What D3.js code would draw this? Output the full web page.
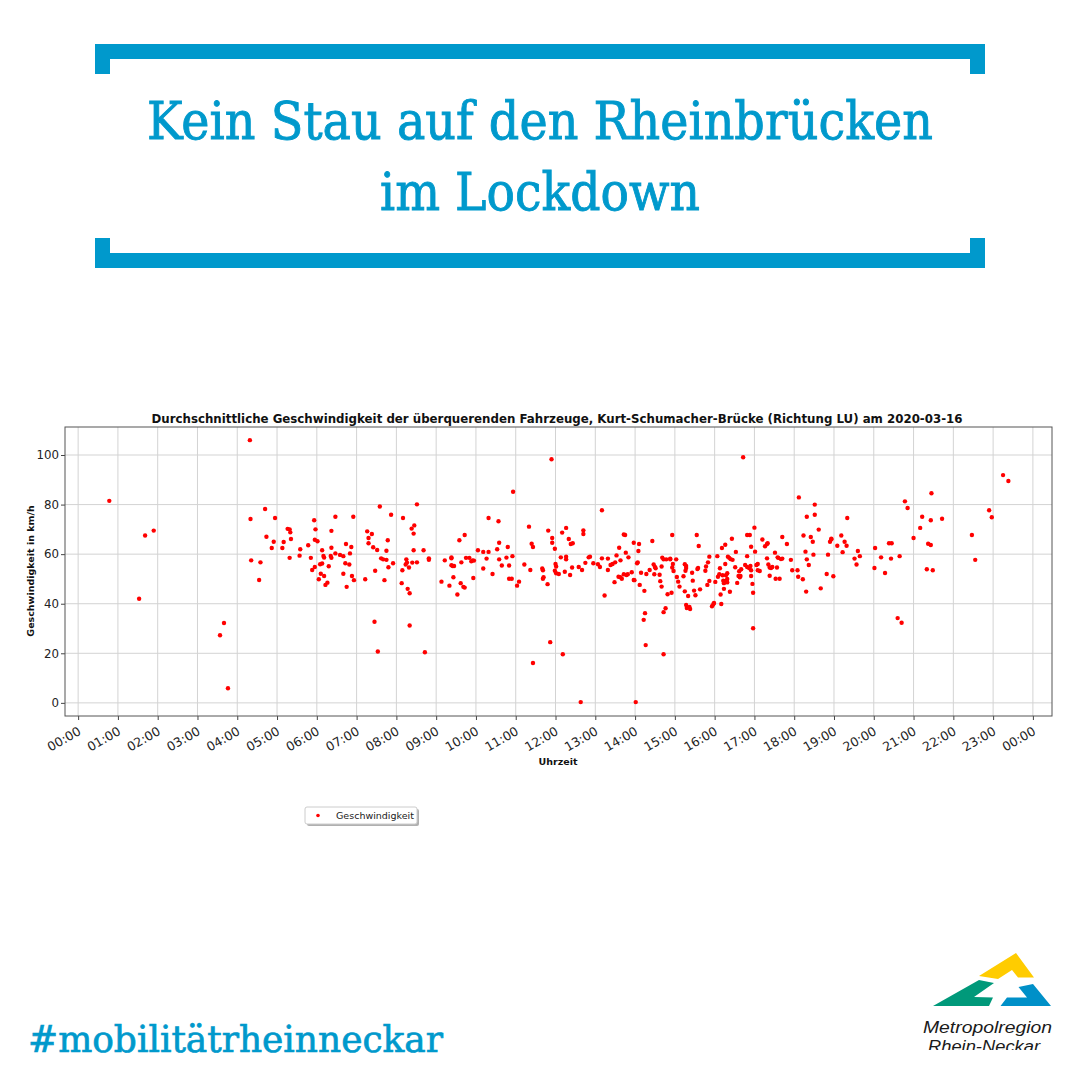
<!DOCTYPE html>
<html><head><meta charset="utf-8">
<script src="https://cdn.jsdelivr.net/npm/d3@7"></script>
<style>html,body{margin:0;padding:0;background:#fff}svg{display:block}</style>
</head><body>
<svg id="c" width="1080" height="1080"></svg>
<script>
// ---- data ----
const chartTitle = "Durchschnittliche Geschwindigkeit der überquerenden Fahrzeuge, Kurt-Schumacher-Brücke (Richtung LU) am 2020-03-16";
const headline = ["Kein Stau auf den Rheinbrücken", "im Lockdown"];
const hashtag = "#mobilitätrheinneckar";
const seriesName = "Geschwindigkeit";
const xAxisLabel = "Uhrzeit";
const yAxisLabel = "Geschwindigkeit in km/h";

const times = [
"00:47","01:32","01:41","01:54","03:34","03:40","03:46","04:19","04:20","04:21","04:33","04:35","04:42","04:44","04:52","04:55","04:57",
"05:08","05:10","05:16","05:19","05:20","05:21","05:19","05:34","05:35","05:47","05:51","05:53","05:56","05:57","05:57","05:58",
"06:01","06:03","06:05","06:08","06:08","06:10","06:11","06:06","06:11","06:13","06:16","06:18","06:21","06:22","06:22","06:22","06:28","06:28","06:35","06:40","06:40","06:43","06:44","06:45","06:49","06:50","06:52","06:53","06:55","06:56",
"07:13","07:16","07:18","07:18","07:23","07:25","07:27","07:28","07:31","07:32","07:35","07:37","07:40","07:42","07:45","07:45","07:47","07:48","07:52","07:55",
"08:08","08:09","08:10","08:14","08:15","08:16","08:17","08:19","08:20","08:20","08:23","08:24","08:26","08:26","08:27","08:31","08:31","08:41","08:43","08:49","08:49",
"09:08","09:13","09:20","09:23","09:23","09:23","09:25","09:27","09:26","09:32","09:35","09:37","09:38","09:41","09:43","09:43","09:45","09:50","09:53","09:55","09:57","09:56",
"10:03","10:11","10:11","10:16","10:19","10:19","10:25","10:32","10:34","10:35","10:35","10:39","10:46","10:48","10:50","10:50","10:54","10:55","10:56",
"11:02","11:05","11:13","11:20","11:22","11:24","11:26","11:26","11:40","11:41","11:42","11:41","11:48","11:49","11:52","11:54","11:55","11:55","11:59","12:00","12:01","11:59","12:01",
"12:05","12:08","12:10","12:11","12:14","12:16","12:16","12:16","12:20","12:22","12:23","12:26","12:25","12:35","12:38","12:40","12:42","12:42","12:45","12:50","12:52","12:57",
"13:04","13:07","13:10","13:10","13:14","13:19","13:19","13:23","13:26","13:29","13:30","13:32","13:36","13:35","13:38","13:40","13:38","13:43","13:45","13:43","13:47","13:49","13:46","13:50","13:55","13:58","13:58","13:59",
"14:01","14:03","14:04","14:05","14:06","14:07","14:09","14:13","14:15","14:14","14:16","14:17","14:22","14:26","14:28","14:30","14:31","14:29","14:37","14:38","14:40","14:40","14:41","14:43","14:47","14:53","14:53","14:43","14:46","14:43","14:49","14:55","14:56","14:57","14:56","14:58",
"15:02","15:03","15:05","15:07","15:13","15:15","15:17","15:17","15:16","15:15","15:17","15:18","15:22","15:23","15:20","15:26","15:27","15:29","15:31","15:33","15:36","15:34","15:35","15:38","15:46","15:47","15:50","15:52","15:49","15:52","15:56","15:58","15:59",
"16:01","16:04","16:05","16:07","16:08","16:10","16:09","16:11","16:12","16:13","16:14","16:14","16:16","16:16","16:17","16:19","16:18","16:19","16:19","16:23","16:26","16:20","16:22","16:24","16:27","16:31","16:32","16:34","16:36","16:38","16:39","16:37","16:40","16:43","16:46","16:49","16:53","16:49","16:49","16:52","16:54","16:55","16:55","16:55","16:57","16:58","16:58",
"17:00","17:01","17:03","17:05","17:05","17:08","17:12","17:16","17:19","17:20","17:19","17:21","17:23","17:25","17:27","17:23","17:31","17:32","17:38","17:34","17:35","17:36","17:40","17:42","17:42","17:49","17:55","17:57",
"18:05","18:06","18:07","18:13","18:14","18:17","18:18","18:19","18:19","18:22","18:25","18:28","18:29","18:31","18:31","18:37","18:40","18:49","18:51","18:54","18:56","18:56","18:59",
"19:05","19:11","19:13","19:16","19:19","19:20","19:31","19:34","19:36","19:39",
"20:01","20:02","20:11","20:17","20:23","20:27","20:26","20:36","20:39","20:42","20:47","20:51",
"21:00","21:10","21:13","21:20","21:22","21:26","21:26","21:27","21:29","21:43",
"22:28","22:33","22:54","22:58","23:15","23:23"
];
const speeds = [
81.5,42,67.5,69.5,27.3,32.2,5.9,106,74.2,57.5,49.6,56.7,78.2,67,62.5,65,74.6,
62.5,64.9,70.2,70,68.8,66.1,58.5,59.4,62,63.6,58.5,53.6,73.7,65.8,54.8,70,
65.2,49.9,55.9,56.2,61.6,59.3,58.6,52.1,51.2,47.6,48.5,55.1,59.3,58.5,62.6,69.4,60.3,75.1,59.7,52.1,59.2,56.3,64.1,46.8,55.8,60.3,62.9,51.2,75.1,49.5,
49.9,69.2,66.5,64.4,68.1,62.8,32.7,53.3,61.7,20.7,79.2,58.3,57.9,49.5,61.4,57.7,65.6,54.7,75.9,56.3,
48.3,53.5,74.6,55.8,57.9,56.6,46,54.6,44.2,31.2,70.3,56.6,68.3,61.6,71.6,56.7,80.1,61.6,20.4,58.3,57.7,
48.9,57.5,47.3,58.7,58.3,55.5,55.2,55.2,50.7,43.7,65.6,48.3,56.7,46.8,46.5,67.7,58.5,58.5,57.1,57.5,57.4,50.4,
61.6,60.9,54.2,58.2,60.9,74.6,52,62,73.3,64.6,57.9,55.4,58.6,62.9,55.4,50.1,50.1,59.2,85.2,
47.3,48.9,55.8,71.1,53.6,64.2,62.9,16.1,54.2,53.5,50.7,50.1,47.9,69.5,24.5,98.3,66.5,64.6,62.2,56,55,53.3,52.3,
52,58.7,68.7,19.6,52.9,59,57.9,70.6,66.1,51.6,64.1,64.4,54.6,54.8,0.3,53.6,69.6,68.1,56.5,58.7,59,56.3,
55.9,54.8,58.3,77.7,43.3,58.2,53.6,55.6,56,48.7,56.7,59.5,62.6,50.9,50.7,50.1,57.5,67.9,67.7,51.9,51.6,51.9,60.6,58.7,52.7,64.6,49.6,49.5,
0.3,56.3,56.7,61.3,64.1,47.6,52.5,33.5,36.2,45.2,23.3,52,53.6,65.3,55.8,54.8,54.3,51.9,51.7,49.1,46.9,55,58.6,57.9,57.9,58.2,57.9,36.6,38.2,19.6,43.8,44.4,67.7,56,54.6,53.2,
57.9,50.8,48.9,46.9,51.1,55.9,55.2,54.4,53.3,45,39.5,38.3,38.7,37.9,43.1,52.5,49.3,45.3,43.4,67.7,63.3,54,54.4,45.8,53.3,55,56.7,59,47.6,49.2,39,39.8,40.3,
48.8,59.2,50.9,51.9,54.3,39.9,43.7,62.5,51.5,49.3,48.3,46,63.8,56,51.5,52.3,49.3,50,48.6,44.8,66.2,59,58.5,58,57.7,54.7,60.9,48.4,51.2,50.7,51.2,53.1,53.9,99.1,55.6,67.7,67.7,59.2,54.8,54.4,55.2,51.2,53.5,63,48,44.4,30.1,
70.7,61,55.6,56,53.5,53.2,65.9,63.2,64.1,64.4,58.3,55.8,54.6,54.4,54.8,51.3,60.6,50.1,50.1,54.6,58.7,58.5,58,58.2,66.9,64.1,57.7,53.5,
53.5,50.9,82.9,49.9,67.5,61,44.9,75.1,57.9,55.6,66.9,65,59.8,80,75.9,69.9,46.2,52,59.8,65,66,66.2,51.1,
63.4,67.5,60.8,65,63.4,74.6,58.2,55.8,61.3,59.2,
54.4,62.5,58.7,52.4,64.4,64.4,58.2,34.2,59.2,32.3,81.3,78.6,
66.5,70.6,75.1,53.9,64.2,63.7,73.7,84.6,53.5,74.3,
67.7,57.7,77.7,74.9,91.9,89.5
];
const yTicks = [0, 20, 40, 60, 80, 100];
const xTickHours = [0,1,2,3,4,5,6,7,8,9,10,11,12,13,14,15,16,17,18,19,20,21,22,23,24];
const xTickLabels = ["00:00","01:00","02:00","03:00","04:00","05:00","06:00","07:00","08:00","09:00","10:00","11:00","12:00",
  "13:00","14:00","15:00","16:00","17:00","18:00","19:00","20:00","21:00","22:00","23:00","00:00"];

// ---- drawing ----
const BLUE = "#0099cc";
const svg = d3.select("#c");
svg.append("rect").attr("width",1080).attr("height",1080).attr("fill","#fff");

// header bracket
const hdr = svg.append("g").attr("fill", BLUE);
hdr.append("rect").attr("x",95).attr("y",44).attr("width",890).attr("height",15);
hdr.append("rect").attr("x",95).attr("y",44).attr("width",15).attr("height",30);
hdr.append("rect").attr("x",970).attr("y",44).attr("width",15).attr("height",30);
hdr.append("rect").attr("x",95).attr("y",253).attr("width",890).attr("height",15);
hdr.append("rect").attr("x",95).attr("y",238).attr("width",15).attr("height",30);
hdr.append("rect").attr("x",970).attr("y",238).attr("width",15).attr("height",30);

const headFont = "'DejaVu Serif', serif";
svg.append("text").attr("x",540).attr("y",139).attr("text-anchor","middle")
  .attr("font-family",headFont).attr("font-size",52).attr("fill",BLUE)
  .attr("stroke",BLUE).attr("stroke-width",0.9)
  .attr("textLength",786).attr("lengthAdjust","spacingAndGlyphs").text(headline[0]);
svg.append("text").attr("x",540).attr("y",210).attr("text-anchor","middle")
  .attr("font-family",headFont).attr("font-size",52).attr("fill",BLUE)
  .attr("stroke",BLUE).attr("stroke-width",0.9)
  .attr("textLength",320).attr("lengthAdjust","spacingAndGlyphs").text(headline[1]);

// chart
const L = 65, R = 1052, T = 427, B = 716;
const hours = times.map(t => { const [h,m] = t.split(":").map(Number); return h + m/60; });
const data = hours.map((h,i) => ({h, v: speeds[i]}));
const x = d3.scaleLinear().domain([-0.33, 24.48]).range([L, R]);
const y = d3.scaleLinear().domain([-5.3, 111.3]).range([B, T]);
const sans = "'DejaVu Sans', sans-serif";

const grid = svg.append("g").attr("stroke","#d3d3d3").attr("stroke-width",1);
grid.selectAll("line.v").data(xTickHours).join("line")
  .attr("x1",d=>x(d)).attr("x2",d=>x(d)).attr("y1",T).attr("y2",B);
grid.selectAll("line.h").data(yTicks).join("line")
  .attr("y1",d=>y(d)).attr("y2",d=>y(d)).attr("x1",L).attr("x2",R);

// axes
const xAxis = svg.append("g").attr("transform",`translate(0,${B})`)
  .call(d3.axisBottom(x).tickValues(xTickHours).tickSize(4).tickSizeOuter(0).tickFormat((d,i)=>xTickLabels[i]));
xAxis.select(".domain").remove();
xAxis.selectAll(".tick line").attr("stroke","#444");
xAxis.selectAll(".tick text")
  .attr("font-family",sans).attr("font-size",12.5).attr("fill","#222")
  .attr("text-anchor","end").attr("dy","0.35em").attr("y",0)
  .attr("transform","translate(1,14) rotate(-30)");

const yAxis = svg.append("g").attr("transform",`translate(${L},0)`)
  .call(d3.axisLeft(y).tickValues(yTicks).tickSize(4).tickSizeOuter(0));
yAxis.select(".domain").remove();
yAxis.selectAll(".tick line").attr("stroke","#444");
yAxis.selectAll(".tick text").attr("font-family",sans).attr("font-size",11.8).attr("fill","#222").attr("x",-6);

svg.append("rect").attr("x",L).attr("y",T).attr("width",R-L).attr("height",B-T)
  .attr("fill","none").attr("stroke","#555").attr("stroke-width",1);

svg.append("g").selectAll("circle").data(data).join("circle")
  .attr("cx",d=>x(d.h)).attr("cy",d=>y(d.v)).attr("r",2.2).attr("fill","#ff0000");

svg.append("text").attr("x",557).attr("y",423).attr("text-anchor","middle")
  .attr("font-family",sans).attr("font-weight","bold").attr("font-size",11.8).attr("fill","#111")
  .attr("textLength",811).attr("lengthAdjust","spacingAndGlyphs").text(chartTitle);
svg.append("text").attr("x",558).attr("y",765).attr("text-anchor","middle")
  .attr("font-family",sans).attr("font-weight","bold").attr("font-size",9.5).attr("fill","#111").text(xAxisLabel);
svg.append("text").attr("transform","translate(34,571) rotate(-90)").attr("text-anchor","middle")
  .attr("font-family",sans).attr("font-weight","bold").attr("font-size",9.5).attr("fill","#111").text(yAxisLabel);

// legend
const lg = svg.append("g");
lg.append("rect").attr("x",307).attr("y",809).attr("width",112).attr("height",17).attr("rx",2).attr("fill","#b0b0b0");
lg.append("rect").attr("x",305).attr("y",807).attr("width",112).attr("height",17).attr("rx",2)
  .attr("fill","#fff").attr("stroke","#cccccc").attr("stroke-width",1);
lg.append("circle").attr("cx",318).attr("cy",815.5).attr("r",1.8).attr("fill","#ff0000");
lg.append("text").attr("x",336).attr("y",819).attr("font-family",sans).attr("font-size",9.5).attr("fill","#222").text(seriesName);

// hashtag
svg.append("text").attr("x",28).attr("y",1052).attr("font-family",headFont).attr("font-size",37).attr("fill",BLUE)
  .attr("stroke",BLUE).attr("stroke-width",0.7)
  .attr("textLength",415).attr("lengthAdjust","spacingAndGlyphs").text(hashtag);

// logo
const logo = svg.append("g");
logo.append("polygon").attr("fill","#ffcc00")
  .attr("points","979,976 1016,953 1034,977.5 1018,977.5 1012,970 998,979");
logo.append("polygon").attr("fill","#00997a")
  .attr("points","933,1006 979,980 994,983 974,997 993,997.5 989,1006");
logo.append("polygon").attr("fill","#0090c8")
  .attr("points","1000.5,1006 1007,997.5 1027,997.5 1018.5,987 1033,984 1051,1006");
svg.append("clipPath").attr("id","lc").append("rect").attr("x",900).attr("y",1010).attr("width",170).attr("height",40);
const lt = svg.append("g").attr("clip-path","url(#lc)");
lt.append("text").attr("x",923).attr("y",1033).attr("font-family","'Liberation Sans', Arial, sans-serif")
  .attr("font-style","italic").attr("font-size",16).attr("fill","#1a1a1a")
  .attr("textLength",129).attr("lengthAdjust","spacingAndGlyphs").text("Metropolregion");
lt.append("text").attr("x",928).attr("y",1052).attr("font-family","'Liberation Sans', Arial, sans-serif")
  .attr("font-style","italic").attr("font-size",16).attr("fill","#1a1a1a")
  .attr("textLength",112).attr("lengthAdjust","spacingAndGlyphs").text("Rhein-Neckar");
</script>
</body></html>
